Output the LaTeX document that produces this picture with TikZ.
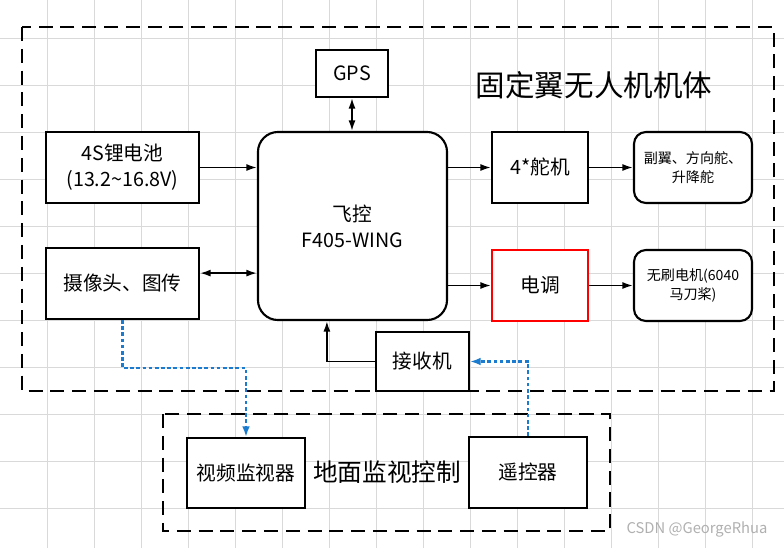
\documentclass[tikz,border=0pt]{standalone}
\usepackage{fontspec}
\usetikzlibrary{arrows.meta}
\setmainfont{Noto Sans CJK SC}
\definecolor{GridGray}{HTML}{D9D9D9}
\definecolor{LinkBlue}{HTML}{1B7CCF}
\definecolor{MarkGray}{HTML}{B0B0B0}

\begin{document}
\begin{tikzpicture}[x=0.025cm, y=-0.025cm,
    box/.style={draw, fill=white, line width=1.5pt, align=center, inner sep=0pt,
        font=\fontsize{14}{18.5}\selectfont},
    roundbox/.style={box, rounded corners=0.3cm, font=\fontsize{10}{13.5}\selectfont},
    group/.style={draw, line width=1.4pt, dash pattern=on 10pt off 5.5pt},
    tip/.style={Latex[length=7.5pt,width=5pt]},
    wire/.style={line width=1.2pt, -{Latex[length=7.5pt,width=5pt]}},
    biwire/.style={line width=1.2pt, {Latex[length=7.5pt,width=5pt]}-{Latex[length=7.5pt,width=5pt]}},
    radio/.style={line width=1.5pt, LinkBlue, dash pattern=on 2.6pt off 1.8pt, -{Latex[length=7.5pt,width=5.5pt]}},
    gridline/.style={GridGray, line width=0.6pt}]
    % Canvas and grid
    \fill[white] (0,0) rectangle (784,548);
    \useasboundingbox (0,0) rectangle (784,548);
    \foreach \x in {47,94,...,752} \draw[gridline] (\x,0) -- (\x,548);
    \foreach \y in {38,85,...,508} \draw[gridline] (0,\y) -- (784,\y);

    % Group outlines
    \draw[group] (22,27) rectangle (774,391);
    \draw[group] (163,414) rectangle (610,531);
    \node[font=\fontsize{21}{24}\selectfont] (airframe) at (594,85) {固定翼无人机机体};
    \node[font=\fontsize{17.5}{20}\selectfont] (ground) at (387,472) {地面监视控制};

    % Airborne parts
    \node[box, minimum width=1.8cm, minimum height=1.175cm] (gps) at (352,73.5) {GPS};
    \node[box, minimum width=3.825cm, minimum height=1.775cm] (bat) at (122.5,167.5) {4S锂电池\\(13.2\textasciitilde16.8V)};
    \node[box, minimum width=3.825cm, minimum height=1.775cm] (cam) at (122.5,283.5) {摄像头、图传};
    \node[box, rounded corners=0.5cm, minimum width=4.725cm, minimum height=4.7cm] (fc) at (352.5,226) {飞控\\F405-WING};
    \node[box, minimum width=2.4cm, minimum height=1.775cm] (servo) at (540,167.5) {4*舵机};
    \node[roundbox, minimum width=2.95cm, minimum height=1.775cm] (surf) at (693,167.5) {副翼、方向舵、\\升降舵};
    \node[box, draw=red, minimum width=2.4cm, minimum height=1.775cm] (esc) at (540,285.5) {电调};
    \node[roundbox, minimum width=2.95cm, minimum height=1.775cm] (motor) at (693,285.5) {无刷电机(6040\\马刀桨)};
    \node[box, minimum width=2.325cm, minimum height=1.475cm] (rx) at (422.5,361.5) {接收机};

    % Ground parts
    \node[box, minimum width=2.95cm, minimum height=1.75cm] (mon) at (246,473) {视频监视器};
    \node[box, minimum width=2.95cm, minimum height=1.775cm] (rc) at (528,472.5) {遥控器};

    % Wired links
    \coordinate (camout) at ([yshift=0.26cm]cam.east);
    \coordinate (rxin) at ([xshift=-0.64cm]fc.south);
    \draw[biwire] (gps.south) -- (gps.south |- fc.north);
    \draw[wire] (bat.east) -- (bat.east -| fc.west);
    \draw[biwire] (camout) -- (camout -| fc.west);
    \draw[wire] (servo.west -| fc.east) -- (servo.west);
    \draw[wire] (servo.east) -- (surf.west);
    \draw[wire] (esc.west -| fc.east) -- (esc.west);
    \draw[wire] (esc.east) -- (motor.west);
    \draw[wire] (rx.west) -| (rxin);

    % Radio links
    \draw[radio] (cam.south) -- ++(0,48) -| (mon.north);
    \draw[radio] (rc.north) |- (rx.east);

    % Watermark
    \node[MarkGray, font=\fontsize{10.5}{12}\selectfont] (mark) at (697,529) {CSDN @GeorgeRhua};
\end{tikzpicture}
\end{document}
